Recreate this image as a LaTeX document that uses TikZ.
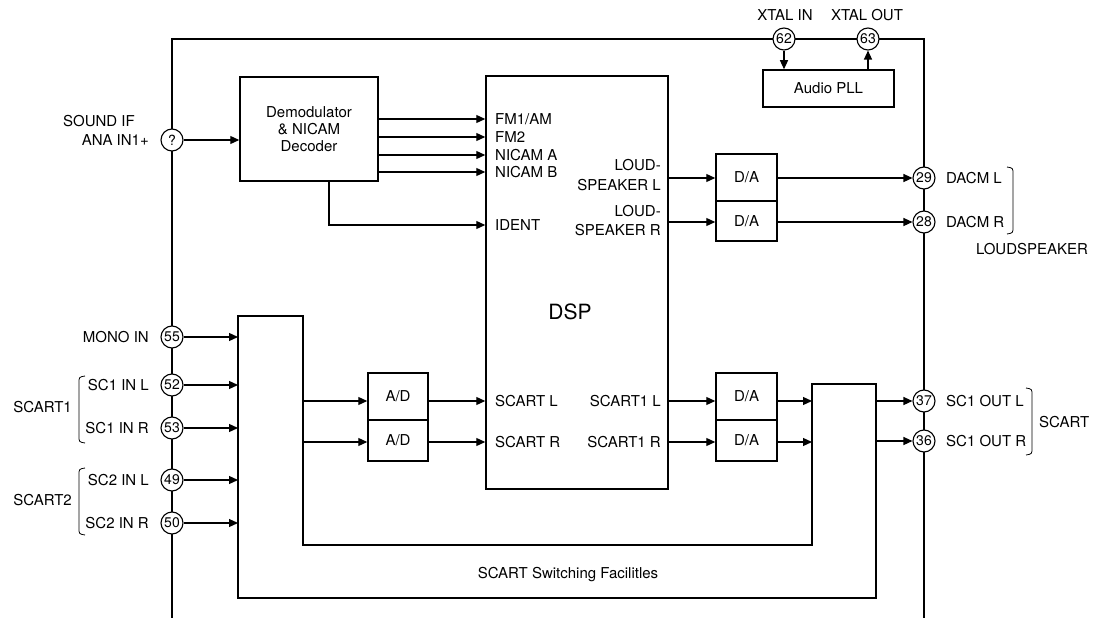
\documentclass[tikz,border=0pt]{standalone}
\usepackage{fontspec}
\setmainfont{TeX Gyre Heros}
\usetikzlibrary{arrows.meta}

\begin{document}
\begin{tikzpicture}[x=1pt,y=-1pt,
  font=\fontsize{15}{18}\selectfont,
  chip/.style={line width=2.6pt},
  blk/.style={draw, line width=1.5pt, inner sep=0pt, align=center},
  pin/.style={draw, circle, line width=1.1pt, fill=white, minimum size=22pt,
              inner sep=0pt, font=\fontsize{14}{14}\selectfont},
  sig/.style={line width=1.2pt, -{Triangle[length=9pt,width=8pt]}},
  wire/.style={line width=1.5pt},
  brk/.style={line width=0.8pt},
  lbl/.style={inner sep=0pt}]

\fill[white] (0,0) rectangle (1096,618);
\useasboundingbox (0,0) rectangle (1096,618);

% chip outline
\draw[chip] (172,618) -- (172,39) -- (924,39) -- (924,618);

% function blocks
\node[blk, minimum width=138pt, minimum height=104pt] (demod) at (309,129)
  {Demodulator\\[-1pt]\& NICAM\\[-1pt]Decoder};
\node[blk, minimum width=182pt, minimum height=413pt] (dsp) at (577,282.5) {};
\node[font=\fontsize{21}{24}\selectfont] (dsptxt) at (570,312) {DSP};
\node[blk, minimum width=131pt, minimum height=37pt] (pll) at (828.5,88.5) {Audio PLL};
\node[blk, minimum width=61pt, minimum height=47pt] (da1) at (746.5,177.5) {D/A};
\node[blk, minimum width=61pt, minimum height=40pt] (da2) at (746.5,221) {D/A};
\node[blk, minimum width=61pt, minimum height=47pt] (da3) at (746.5,396.5) {D/A};
\node[blk, minimum width=61pt, minimum height=41pt] (da4) at (746.5,440.5) {D/A};
\node[blk, minimum width=60pt, minimum height=47pt] (ad1) at (398,396.5) {A/D};
\node[blk, minimum width=60pt, minimum height=41pt] (ad2) at (398,440.5) {A/D};

% SCART switching block
\draw[wire] (238,316) -- (303,316) -- (303,545) -- (812,545) -- (812,384)
  -- (876,384) -- (876,598) -- (238,598) -- cycle;
\node (swtxt) at (568,575) {SCART Switching Facilitles};
\coordinate (swl) at (238,316);
\coordinate (swi) at (303,316);
\coordinate (swo) at (812,384);
\coordinate (swr) at (876,384);

% signal rows
\coordinate (rowL) at (0,401);
\coordinate (rowR) at (0,442);
\coordinate (fm1) at (0,119);
\coordinate (fm2) at (0,137);
\coordinate (nia) at (0,155);
\coordinate (nib) at (0,172);
\coordinate (idx) at (329,225);

% pins
\node[pin] (pq)  at (172,140) {?};
\node[pin] (p55) at (172,337) {55};
\node[pin] (p52) at (172,385) {52};
\node[pin] (p53) at (172,428) {53};
\node[pin] (p49) at (172,480) {49};
\node[pin] (p50) at (172,523) {50};
\node[pin] (p62) at (784,39) {62};
\node[pin] (p63) at (868,39) {63};
\node[pin] (p29) at (924,178) {29};
\node[pin] (p28) at (924,222) {28};
\node[pin] (p37) at (924,401) {37};
\node[pin] (p36) at (924,441) {36};

% connections
\draw[sig] (pq.east) -- (demod.west |- pq);
\draw[sig] (demod.east |- fm1) -- (dsp.west |- fm1);
\draw[sig] (demod.east |- fm2) -- (dsp.west |- fm2);
\draw[sig] (demod.east |- nia) -- (dsp.west |- nia);
\draw[sig] (demod.east |- nib) -- (dsp.west |- nib);
\draw[sig] (demod.south -| idx) -- (idx) -- (dsp.west |- idx);

\draw[sig] (p62.south) -- (p62 |- pll.north);
\draw[sig] (p63 |- pll.north) -- (p63.south);

\draw[sig] (dsp.east |- p29) -- (da1.west |- p29);
\draw[sig] (dsp.east |- p28) -- (da2.west |- p28);
\draw[sig] (da1.east |- p29) -- (p29.west);
\draw[sig] (da2.east |- p28) -- (p28.west);

\draw[sig] (p55.east) -- (swl |- p55);
\draw[sig] (p52.east) -- (swl |- p52);
\draw[sig] (p53.east) -- (swl |- p53);
\draw[sig] (p49.east) -- (swl |- p49);
\draw[sig] (p50.east) -- (swl |- p50);

\draw[sig] (swi |- rowL) -- (ad1.west |- rowL);
\draw[sig] (swi |- rowR) -- (ad2.west |- rowR);
\draw[sig] (ad1.east |- rowL) -- (dsp.west |- rowL);
\draw[sig] (ad2.east |- rowR) -- (dsp.west |- rowR);
\draw[sig] (dsp.east |- rowL) -- (da3.west |- rowL);
\draw[sig] (dsp.east |- rowR) -- (da4.west |- rowR);
\draw[sig] (da3.east |- rowL) -- (swo |- rowL);
\draw[sig] (da4.east |- rowR) -- (swo |- rowR);
\draw[sig] (swr |- p37) -- (p37.west);
\draw[sig] (swr |- p36) -- (p36.west);

% DSP port labels
\node[lbl, anchor=west] (lfm1) at (495,119) {FM1/AM};
\node[lbl, anchor=west] (lfm2) at (495,137) {FM2};
\node[lbl, anchor=west] (lnia) at (495,155) {NICAM A};
\node[lbl, anchor=west] (lnib) at (495,172) {NICAM B};
\node[lbl, anchor=west] (lid)  at (495,225) {IDENT};
\node[lbl, anchor=west] (lscl) at (495,401) {SCART L};
\node[lbl, anchor=west] (lscr) at (495,442) {SCART R};
\node[lbl, anchor=east] (lo1l) at (661,401) {SCART1 L};
\node[lbl, anchor=east] (lo1r) at (661,442) {SCART1 R};
\node[lbl, anchor=east, align=right, font=\fontsize{15}{19.5}\selectfont] (lspl)
  at (661,175) {LOUD-\\SPEAKER L};
\node[lbl, anchor=east, align=right, font=\fontsize{15}{19.5}\selectfont] (lspr)
  at (661,220.5) {LOUD-\\SPEAKER R};

% pin labels
\node[lbl, anchor=east] (tsif) at (135,121) {SOUND IF};
\node[lbl, anchor=east] (tana) at (149,140) {ANA IN1+};
\node[lbl, anchor=east] (t55) at (149,337) {MONO IN};
\node[lbl, anchor=east] (t52) at (149,385) {SC1 IN L};
\node[lbl, anchor=east] (t53) at (149,428) {SC1 IN R};
\node[lbl, anchor=east] (t49) at (149,480) {SC2 IN L};
\node[lbl, anchor=east] (t50) at (149,523) {SC2 IN R};
\node[lbl] (t62) at (785,15) {XTAL IN};
\node[lbl] (t63) at (867,15) {XTAL OUT};
\node[lbl, anchor=west] (t29) at (946,178) {DACM L};
\node[lbl, anchor=west] (t28) at (946,222) {DACM R};
\node[lbl, anchor=west] (t37) at (946,401) {SC1 OUT L};
\node[lbl, anchor=west] (t36) at (946,441) {SC1 OUT R};

% group brackets
\draw[brk] (85,376) .. controls (79,377) .. (79,383) -- (79,436) .. controls (79,442) .. (85,443);
\draw[brk] (85,468) .. controls (79,469) .. (79,475) -- (79,528) .. controls (79,534) .. (85,535);
\draw[brk] (1007,167) .. controls (1013,168) .. (1013,174) -- (1013,227) .. controls (1013,233) .. (1007,234);
\draw[brk] (1026,388) .. controls (1032,389) .. (1032,395) -- (1032,448) .. controls (1032,454) .. (1026,455);
\node[lbl, anchor=east] (tsc1) at (72,407) {SCART1};
\node[lbl, anchor=east] (tsc2) at (72,500) {SCART2};
\node[lbl] (tls) at (1032,249) {LOUDSPEAKER};
\node[lbl, anchor=west] (tsc) at (1039,422) {SCART};

\end{tikzpicture}
\end{document}
